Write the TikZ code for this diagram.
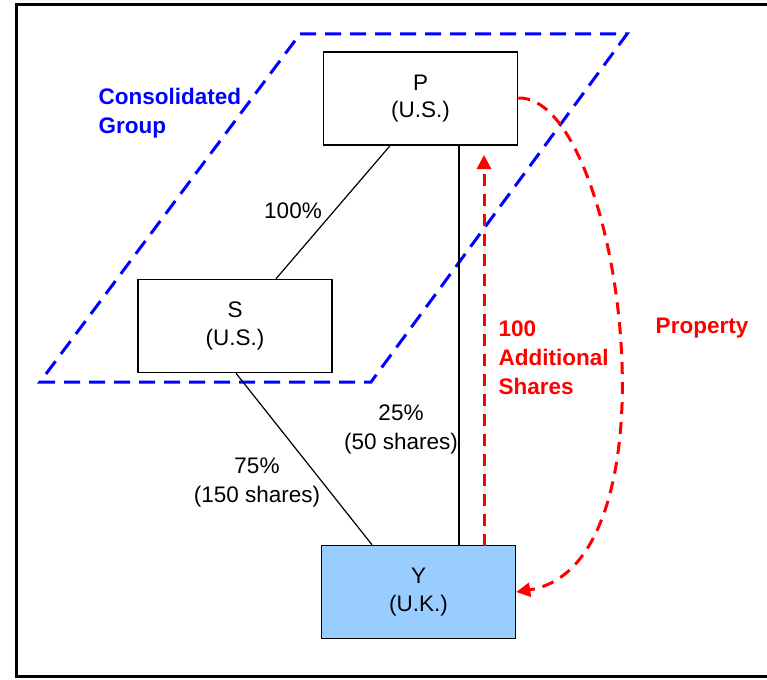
\documentclass[tikz,border=0pt]{standalone}
\usepackage{fontspec}
\setmainfont{Liberation Sans}
\usetikzlibrary{arrows.meta}
\definecolor{ybox}{HTML}{99CCFF}
\begin{document}
\begin{tikzpicture}[x=1pt,y=-1pt,
  ent/.style={draw=black,line width=1.5pt,minimum width=194pt,minimum height=93pt,inner sep=0pt,align=center,font=\fontsize{22.5}{27.5}\selectfont},
  lbl/.style={align=center,font=\fontsize{22.5}{29}\selectfont},
  conn/.style={draw=black,line width=1.2pt},
  bluedash/.style={draw=blue,line width=3pt,dash pattern=on 16pt off 9pt},
  reddash/.style={draw=red,line width=3pt,dash pattern=on 12pt off 8pt},
  redlbl/.style={text=red,align=left,font=\bfseries\fontsize{22.5}{29}\selectfont},
  bluelbl/.style={text=blue,align=left,font=\bfseries\fontsize{22.5}{29}\selectfont}]
\useasboundingbox (0,0) rectangle (767,679);
\draw[line width=3pt] (16.5,4.5) rectangle (780,676.5);
% consolidated group parallelogram
\draw[bluedash] (300,34) -- (627,34) -- (371,382) -- (40,382) -- cycle;
% entities
\node[ent] (P) at (420.5,98.5) {\raisebox{-2pt}{P}\\\raisebox{-2pt}{(U.S.)}};
\node[ent] (S) at (235,326) {\raisebox{-2pt}{S}\\\raisebox{-2pt}{(U.S.)}};
\node[ent,fill=ybox] (Y) at (418.5,592) {\raisebox{-2pt}{Y}\\\raisebox{-2pt}{(U.K.)}};
% ownership lines
\draw[conn] (P.south -| 390,0) -- (S.north -| 276,0);
\draw[conn] (P.south -| 459,0) -- (Y.north -| 459,0);
\draw[conn] (S.south -| 236,0) -- (Y.north -| 372,0);
% labels
\node[lbl] (l100) at (293,211) {100\%};
\node[lbl] (l75) at (257,483) {75\%\\(150 shares)};
\node[lbl] (l25) at (401,429) {25\%\\(50 shares)};
\node[bluelbl,anchor=west] (cg) at (95,113.5) {Consolidated\\Group};
\node[redlbl,anchor=west] (add) at (495,358) {100\\Additional\\Shares};
\node[redlbl] (prop) at (702,328) {Property};
% red arrows
\coordinate (ys) at (484,546);
\coordinate (pt) at (484,155);
\draw[reddash,-{Triangle[length=14pt,width=14pt]}] (ys) -- (pt);
\draw[reddash,-{Triangle[length=14pt,width=14pt]}] (P.east |- 0,98) .. controls (620,95) and (685,565) .. (Y.east |- 0,592);
\end{tikzpicture}
\end{document}
